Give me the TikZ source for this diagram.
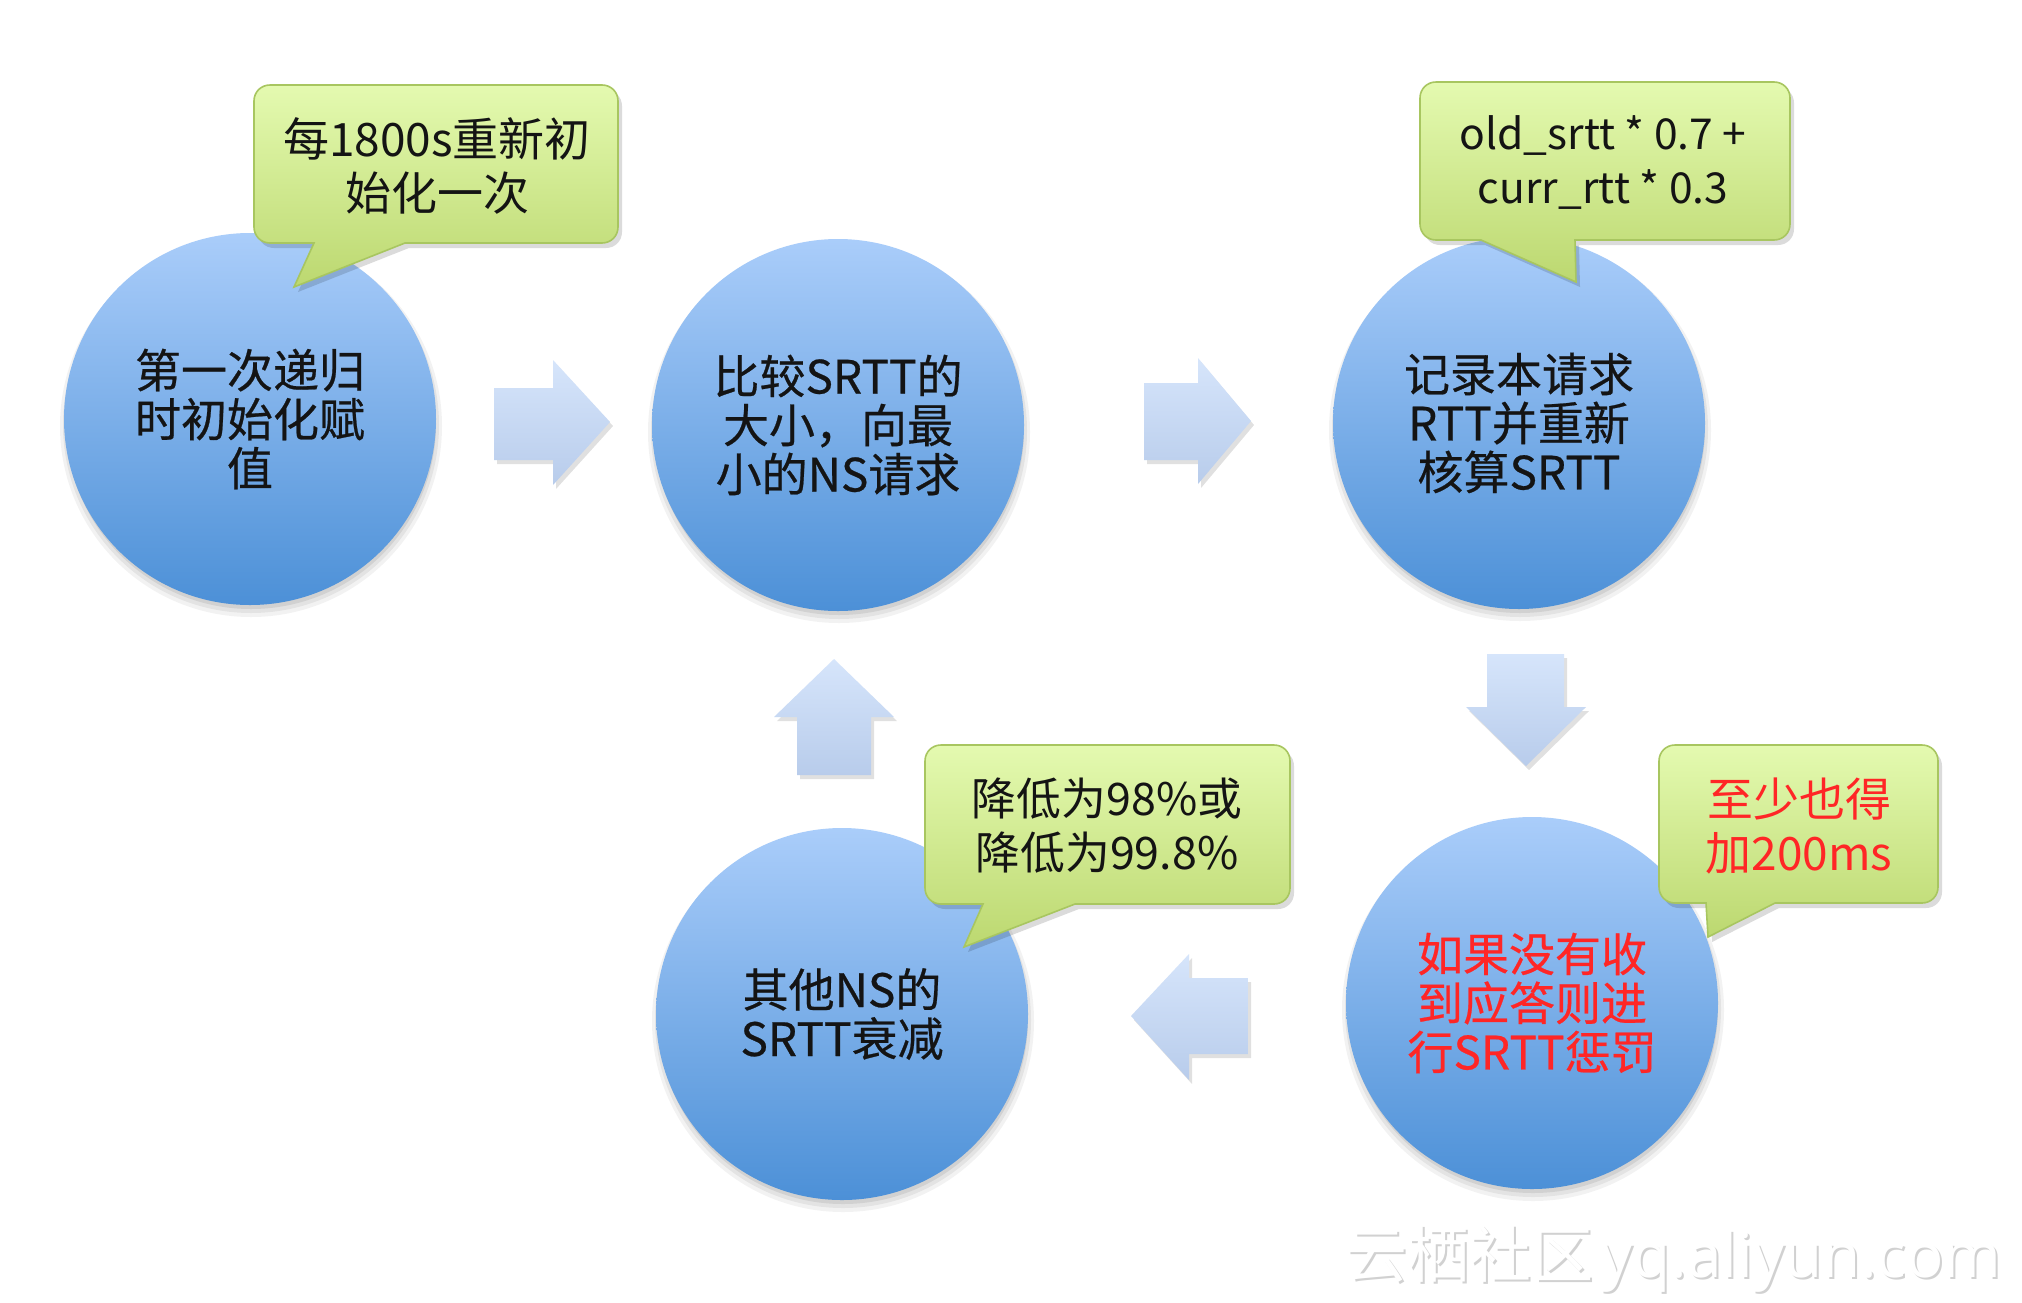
\documentclass[tikz,border=0pt]{standalone}
\usepackage{fontspec}
\setmainfont{Noto Sans CJK SC}
\newfontfamily\circfont{Noto Sans CJK SC}[FakeBold=0.5]
\newfontfamily\wmlatin{Open Sans}
\definecolor{circtop}{RGB}{170,205,250}
\definecolor{circbot}{RGB}{76,144,215}
\definecolor{calltop}{RGB}{228,250,176}
\definecolor{callbot}{RGB}{188,216,112}
\definecolor{callborder}{RGB}{168,198,96}
\definecolor{arrtop}{RGB}{214,229,251}
\definecolor{arrbot}{RGB}{184,204,235}
\definecolor{alertred}{RGB}{255,38,38}
\definecolor{inktext}{RGB}{20,20,20}
\tikzset{
  bubble/.style={circle, minimum size=186pt, inner sep=0pt, top color=circtop, bottom color=circbot,
    draw=none, align=center, text=inktext, font=\circfont\fontsize{23}{24.5}\selectfont},
  calloutshape/.style={top color=calltop, bottom color=callbot, draw=callborder, line width=0.8pt,
    preaction={fill=black, opacity=0.14, transform canvas={shift={(2pt,-2.5pt)}}}},
  callouttext/.style={align=center, text=inktext, inner sep=0pt, font=\fontsize{23}{27}\selectfont},
  blockarrow/.style={top color=arrtop, bottom color=arrbot, draw=none,
    preaction={fill=black, opacity=0.12, transform canvas={shift={(1.5pt,-2pt)}}}}
}
% #1 L, #2 T, #3 R, #4 B, #5 a, #6 b, #7 tip x, #8 tip y
\newcommand\mycallout[9]{%
  \path[calloutshape]
    ({#1+16},#2) -- ({#3-16},#2) .. controls ({#3-7},#2) and (#3,{#2+7}) .. (#3,{#2+16})
    -- (#3,{#4-16}) .. controls (#3,{#4-7}) and ({#3-7},#4) .. ({#3-16},#4)
    -- (#6,#4) -- (#7,#8) -- (#5,#4)
    -- ({#1+16},#4) .. controls ({#1+7},#4) and (#1,{#4-7}) .. (#1,{#4-16})
    -- (#1,{#2+16}) .. controls (#1,{#2+7}) and ({#1+7},#2) .. ({#1+16},#2) -- cycle;
}
\newcommand\bubbleshadow[2]{%
  \fill[black, opacity=0.05] ({#1+1},{#2+7}) circle[radius=95.5pt];
  \fill[black, opacity=0.06] ({#1+1},{#2+6}) circle[radius=94pt];
  \fill[black, opacity=0.08] ({#1+1},{#2+5}) circle[radius=92.5pt];
}
\begin{document}
\begin{tikzpicture}[x=0.5pt,y=-0.5pt]
\useasboundingbox[fill=white] (0,0) rectangle (2022,1302);

% shadows of the circles
\bubbleshadow{250}{419}
\bubbleshadow{838}{425}
\bubbleshadow{1519}{423}
\bubbleshadow{842}{1014}
\bubbleshadow{1532}{1003}

% circles
\node[bubble] (c1) at (250,419) {第一次递归\\时初始化赋\\值};
\node[bubble] (c2) at (838,425) {比较SRTT的\\大小，向最\\小的NS请求};
\node[bubble] (c3) at (1519,423) {记录本请求\\RTT并重新\\核算SRTT};
\node[bubble] (c4) at (842,1014) {其他NS的\\SRTT衰减};
\node[bubble, text=alertred] (c5) at (1532,1003) {如果没有收\\到应答则进\\行SRTT惩罚};

% block arrows
\path[blockarrow] (494,388) -- (553,388) -- (553,360) -- (610,422) -- (553,485) -- (553,460) -- (494,460) -- cycle;
\path[blockarrow] (1144,383) -- (1198,383) -- (1198,358) -- (1251,421) -- (1198,484) -- (1198,460) -- (1144,460) -- cycle;
\path[blockarrow] (1487,654) -- (1564,654) -- (1564,707) -- (1586,707) -- (1526,766) -- (1466,707) -- (1487,707) -- cycle;
\path[blockarrow] (1248,978) -- (1189,978) -- (1189,954) -- (1131,1016) -- (1189,1080) -- (1189,1054) -- (1248,1054) -- cycle;
\path[blockarrow] (797,775) -- (871,775) -- (871,717) -- (894,717) -- (834,659) -- (774,717) -- (797,717) -- cycle;

% callouts
\mycallout{254}{85}{618}{243}{314}{405}{294}{287}{}
\mycallout{1420}{82}{1790}{240}{1481}{1575}{1576}{282}{}
\mycallout{925}{745}{1290}{904}{983}{1075}{964}{947}{}
\mycallout{1659}{745}{1938}{903}{1706}{1775}{1708}{937}{}

\node[callouttext] (t1) at (437,166) {每1800s重新初\\始化一次};
\node[callouttext, font=\fontsize{21.3}{27}\selectfont] (t2) at (1603,163) {old\_srtt * 0.7 +\\curr\_rtt * 0.3};
\node[callouttext, font=\fontsize{22.4}{27}\selectfont] (t3) at (1107,826) {降低为98\%或\\降低为99.8\%};
\node[callouttext, text=alertred] (t4) at (1799,826) {至少也得\\加200ms};

% watermark
\node[anchor=base west, inner sep=0pt, text=black!18, font=\fontsize{31}{31}\selectfont] (wmshadow) at (1347,1279) {云栖社区\hspace{4pt}{\wmlatin yq.aliyun.com}};
\node[anchor=base west, inner sep=0pt, text=white, font=\fontsize{31}{31}\selectfont] (wm) at (1345,1277) {云栖社区\hspace{4pt}{\wmlatin yq.aliyun.com}};
\end{tikzpicture}
\end{document}
